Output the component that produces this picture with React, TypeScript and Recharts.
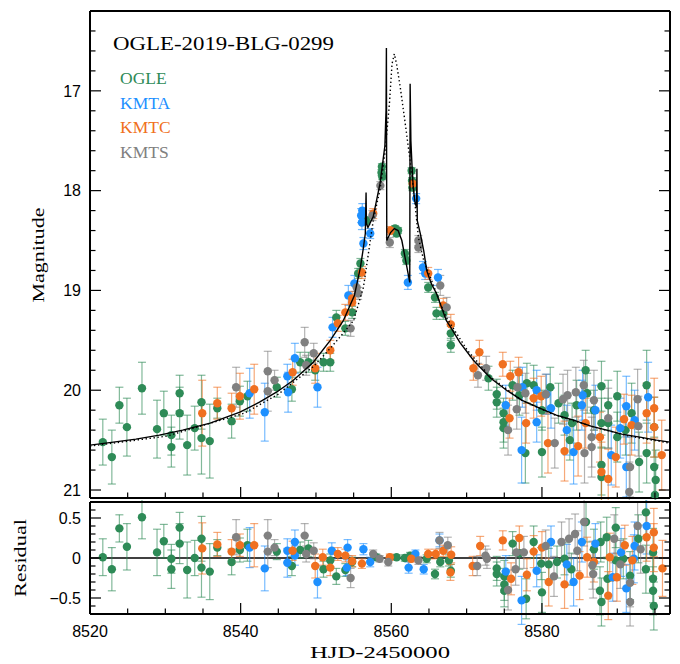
import React from 'react';
import { ScatterChart, Scatter, XAxis, YAxis, ErrorBar, ReferenceLine } from 'recharts';

type Row = [number, number, number];
type Pt = [number, number];

// light curve: [HJD-2450000, magnitude, sigma]
const ogleMag: Row[] = [
  [8521.7, 20.52, 0.23], [8522.9, 20.67, 0.27], [8523.9, 20.15, 0.18], [8524.9, 20.37, 0.29],
  [8526.9, 19.98, 0.26], [8528.9, 20.39, 0.29], [8529.8, 20.23, 0.22], [8530.8, 20.45, 0.2],
  [8530.8, 20.57, 0.2], [8531.9, 20.03, 0.18], [8531.9, 20.23, 0.26], [8532.9, 20.55, 0.3],
  [8533.9, 20.38, 0.22], [8534.8, 20.12, 0.27], [8534.8, 20.48, 0.36], [8535.9, 20.51, 0.37],
  [8536.9, 20.18, 0.1], [8538.8, 20.31, 0.17], [8539.9, 20.11, 0.15], [8540.9, 20.06, 0.15],
  [8544.8, 19.97, 0.1], [8546.8, 19.99, 0.12], [8547.9, 19.72, 0.1], [8549.0, 19.72, 0.1],
  [8549.9, 19.8, 0.1], [8551.0, 19.72, 0.09], [8551.9, 19.72, 0.09], [8552.7, 19.27, 0.07],
  [8553.9, 19.38, 0.07], [8554.8, 19.22, 0.06], [8555.6, 18.83, 0.05], [8555.9, 18.73, 0.05],
  [8556.7, 18.3, 0.04], [8558.7, 17.82, 0.03], [8558.75, 17.76, 0.03], [8558.8, 17.86, 0.03],
  [8560.5, 18.38, 0.03], [8560.7, 18.43, 0.03], [8560.9, 18.4, 0.03], [8561.8, 18.63, 0.04],
  [8562.0, 18.7, 0.04], [8562.7, 17.8, 0.03], [8562.75, 17.9, 0.03], [8562.8, 17.97, 0.03],
  [8564.9, 18.97, 0.05], [8565.8, 19.07, 0.05], [8566.0, 19.23, 0.06], [8566.9, 19.23, 0.06],
  [8567.9, 19.43, 0.07], [8567.9, 19.55, 0.07], [8572.9, 19.88, 0.12], [8574.0, 20.04, 0.15],
  [8574.0, 20.12, 0.15], [8574.9, 20.23, 0.15], [8574.9, 20.32, 0.2], [8574.9, 20.38, 0.2],
  [8576.1, 19.95, 0.15], [8577.0, 20.05, 0.2], [8577.8, 20.63, 0.3], [8578.0, 19.93, 0.2],
  [8578.9, 19.95, 0.2], [8580.0, 20.62, 0.25], [8580.0, 20.2, 0.2], [8581.1, 19.97, 0.2],
  [8582.2, 20.13, 0.2], [8583.0, 20.25, 0.2], [8583.7, 20.5, 0.2], [8584.0, 20.33, 0.2],
  [8584.6, 20.15, 0.25], [8585.8, 19.8, 0.2], [8586.0, 20.03, 0.2], [8586.9, 20.2, 0.2],
  [8587.9, 19.96, 0.25], [8587.9, 20.33, 0.25], [8587.9, 20.87, 0.3], [8587.9, 20.75, 0.3],
  [8588.8, 20.15, 0.25], [8588.8, 20.33, 0.25], [8590.0, 20.06, 0.25], [8590.0, 20.47, 0.25],
  [8591.1, 20.4, 0.25], [8591.9, 20.23, 0.3], [8592.9, 20.72, 0.3], [8593.9, 20.63, 0.3],
  [8593.9, 19.95, 0.35], [8594.9, 20.37, 0.3], [8594.9, 20.77, 0.3], [8595.1, 20.9, 0.3],
  [8595.0, 21.05, 0.3],
];

const kmtaMag: Row[] = [
  [8541.2, 20.03, 0.25], [8543.2, 20.22, 0.29], [8546.2, 19.86, 0.12], [8546.3, 20.02, 0.2],
  [8547.2, 19.68, 0.15], [8550.2, 19.97, 0.2], [8552.2, 19.37, 0.1], [8554.3, 19.05, 0.1],
  [8555.1, 18.93, 0.08], [8556.0, 18.25, 0.07], [8556.1, 18.32, 0.07], [8556.15, 18.2, 0.07],
  [8556.3, 18.53, 0.06], [8557.2, 18.43, 0.05], [8562.2, 18.92, 0.07], [8563.3, 18.08, 0.05],
  [8564.2, 18.77, 0.06], [8564.5, 18.83, 0.06], [8566.2, 18.87, 0.08], [8575.2, 20.15, 0.2],
  [8577.3, 20.6, 0.33], [8577.4, 19.97, 0.2], [8579.3, 20.0, 0.2], [8579.3, 20.32, 0.2],
  [8580.6, 20.04, 0.2], [8581.2, 20.18, 0.2], [8583.3, 20.4, 0.25], [8584.2, 20.62, 0.32],
  [8585.3, 20.15, 0.25], [8585.4, 20.05, 0.25], [8587.1, 20.2, 0.25], [8589.2, 20.65, 0.3],
  [8590.4, 20.38, 0.3], [8591.2, 20.16, 0.3], [8591.2, 20.77, 0.3], [8592.3, 20.3, 0.3],
  [8594.1, 20.07, 0.35],
];

const kmtcMag: Row[] = [
  [8534.9, 20.23, 0.33], [8536.9, 20.13, 0.16], [8538.8, 20.18, 0.15], [8539.9, 20.06, 0.23],
  [8541.8, 19.99, 0.25], [8546.9, 19.82, 0.13], [8549.9, 19.78, 0.15], [8551.9, 19.6, 0.1],
  [8552.9, 19.33, 0.08], [8553.9, 19.22, 0.08], [8554.8, 19.08, 0.07], [8554.8, 19.12, 0.07],
  [8556.1, 18.82, 0.06], [8557.6, 18.23, 0.05], [8559.9, 18.4, 0.04], [8562.85, 17.93, 0.04],
  [8564.9, 18.83, 0.06], [8566.9, 19.15, 0.07], [8567.9, 19.34, 0.1], [8570.9, 19.78, 0.12],
  [8571.7, 19.62, 0.12], [8574.8, 19.74, 0.12], [8575.8, 19.86, 0.15], [8575.7, 20.28, 0.2],
  [8576.9, 19.82, 0.15], [8577.9, 20.33, 0.2], [8578.9, 20.08, 0.2], [8579.9, 20.06, 0.2],
  [8580.8, 20.53, 0.3], [8583.0, 20.61, 0.3], [8584.8, 20.56, 0.3], [8585.8, 20.33, 0.25],
  [8587.7, 20.47, 0.25], [8587.9, 20.82, 0.3], [8588.8, 20.89, 0.3], [8589.8, 20.67, 0.3],
  [8590.9, 20.29, 0.25], [8591.9, 20.35, 0.3], [8593.9, 20.23, 0.3], [8594.9, 20.18, 0.3],
  [8594.9, 20.37, 0.3], [8595.9, 20.65, 0.35],
];

const kmtsMag: Row[] = [
  [8539.4, 19.97, 0.2], [8543.6, 19.81, 0.2], [8543.6, 20.01, 0.2], [8544.5, 19.9, 0.1],
  [8548.5, 19.52, 0.15], [8548.7, 19.75, 0.1], [8549.7, 19.63, 0.1], [8554.6, 19.38, 0.08],
  [8555.4, 18.97, 0.06], [8555.6, 19.03, 0.06], [8557.5, 18.25, 0.05], [8558.55, 17.95, 0.04],
  [8559.8, 18.52, 0.05], [8563.6, 18.5, 0.05], [8563.6, 18.57, 0.05], [8566.5, 18.95, 0.1],
  [8567.35, 19.17, 0.1], [8571.5, 19.85, 0.12], [8572.6, 19.78, 0.12], [8575.5, 20.4, 0.25],
  [8576.65, 20.19, 0.2], [8576.75, 19.97, 0.2], [8577.8, 20.03, 0.2], [8580.5, 20.04, 0.2],
  [8581.7, 20.53, 0.25], [8582.8, 20.09, 0.25], [8583.4, 20.05, 0.25], [8584.5, 20.02, 0.25],
  [8585.55, 19.95, 0.25], [8585.65, 20.63, 0.3], [8586.6, 20.47, 0.3], [8586.6, 20.57, 0.3],
  [8586.9, 20.1, 0.3], [8588.8, 20.28, 0.3], [8591.7, 20.77, 0.3], [8591.6, 21.02, 0.3],
  [8592.7, 20.09, 0.3], [8592.8, 20.36, 0.3],
];

// residuals: [HJD-2450000, residual, sigma]
const ogleRes: Row[] = [
  [8521.7, 0.01, 0.23], [8522.9, -0.14, 0.27], [8523.9, 0.37, 0.17], [8524.9, 0.14, 0.29],
  [8526.9, 0.51, 0.27], [8528.9, 0.07, 0.29], [8529.8, 0.21, 0.21], [8530.8, -0.01, 0.18],
  [8530.8, -0.14, 0.24], [8531.9, 0.38, 0.19], [8531.9, 0.18, 0.25], [8532.9, -0.15, 0.35],
  [8533.9, 0.0, 0.22], [8534.8, 0.24, 0.28], [8534.8, -0.12, 0.37], [8535.9, -0.17, 0.35],
  [8536.9, 0.13, 0.1], [8538.8, -0.05, 0.16], [8539.9, 0.1, 0.15], [8540.9, 0.16, 0.2],
  [8544.8, 0.08, 0.1], [8546.8, -0.1, 0.12], [8547.9, 0.1, 0.1], [8549.0, 0.12, 0.1],
  [8551.0, -0.14, 0.1], [8551.9, -0.03, 0.08], [8552.7, -0.23, 0.1], [8553.9, -0.15, 0.08],
  [8554.8, -0.05, 0.06], [8558.0, 0.01, 0.04], [8560.7, 0.01, 0.03], [8561.8, 0.0, 0.04],
  [8562.5, 0.03, 0.04], [8564.7, -0.01, 0.05], [8565.8, -0.2, 0.06], [8566.5, -0.05, 0.06],
  [8567.9, -0.16, 0.08], [8567.65, -0.03, 0.07], [8574.0, -0.13, 0.15], [8574.0, -0.2, 0.15],
  [8575.0, -0.23, 0.2], [8575.0, -0.33, 0.2], [8575.0, -0.41, 0.2], [8576.1, 0.18, 0.15],
  [8577.0, 0.06, 0.2], [8577.9, -0.51, 0.25], [8578.9, 0.2, 0.2], [8579.9, -0.07, 0.2],
  [8580.0, -0.43, 0.25], [8580.9, -0.08, 0.2], [8582.0, -0.05, 0.2], [8583.0, -0.01, 0.2],
  [8583.9, -0.14, 0.2], [8585.85, 0.45, 0.25], [8586.9, 0.11, 0.25], [8587.8, 0.2, 0.25],
  [8587.7, -0.41, 0.3], [8587.9, -0.55, 0.3], [8588.6, 0.26, 0.25], [8588.7, -0.26, 0.25],
  [8589.8, 0.38, 0.25], [8589.8, -0.03, 0.25], [8590.8, -0.01, 0.25], [8591.7, -0.22, 0.3],
  [8592.8, 0.24, 0.3], [8593.8, -0.14, 0.3], [8593.8, 0.57, 0.3], [8594.75, 0.07, 0.3],
  [8594.75, -0.26, 0.3], [8594.75, -0.41, 0.3], [8594.85, -0.6, 0.3],
];

const kmtaRes: Row[] = [
  [8541.2, 0.13, 0.25], [8543.2, -0.13, 0.28], [8546.2, 0.09, 0.15], [8546.2, -0.06, 0.18],
  [8547.2, 0.2, 0.15], [8547.2, 0.03, 0.12], [8550.2, -0.3, 0.2], [8552.1, 0.09, 0.1],
  [8554.2, 0.13, 0.1], [8554.1, -0.12, 0.1], [8556.3, 0.11, 0.07], [8557.2, -0.05, 0.06],
  [8562.3, -0.12, 0.07], [8563.2, 0.05, 0.05], [8564.3, -0.14, 0.06], [8566.4, 0.22, 0.08],
  [8575.2, -0.17, 0.2], [8577.3, -0.53, 0.3], [8579.3, -0.16, 0.2], [8581.2, 0.2, 0.2],
  [8583.3, -0.08, 0.25], [8584.2, -0.3, 0.3], [8585.3, 0.2, 0.25], [8587.1, 0.18, 0.25],
  [8589.4, -0.24, 0.3], [8590.5, 0.07, 0.3], [8591.2, -0.38, 0.3], [8592.3, 0.15, 0.3],
  [8592.2, -0.01, 0.3], [8593.9, 0.4, 0.35],
];

const kmtcRes: Row[] = [
  [8534.9, 0.12, 0.32], [8536.9, 0.17, 0.15], [8538.8, 0.08, 0.15], [8539.9, 0.16, 0.14],
  [8541.8, 0.16, 0.27], [8546.9, 0.09, 0.12], [8549.9, -0.1, 0.15], [8550.9, 0.01, 0.1],
  [8551.9, -0.12, 0.1], [8552.9, 0.05, 0.08], [8553.9, 0.03, 0.08], [8554.8, -0.04, 0.07],
  [8556.1, -0.07, 0.06], [8559.8, 0.01, 0.04], [8562.65, -0.01, 0.04], [8564.9, 0.05, 0.06],
  [8565.9, 0.05, 0.06], [8566.9, 0.09, 0.07], [8567.85, -0.18, 0.1], [8567.95, 0.04, 0.1],
  [8570.8, -0.1, 0.12], [8571.8, 0.15, 0.12], [8574.8, 0.22, 0.12], [8575.9, -0.26, 0.2],
  [8577.0, 0.25, 0.15], [8578.0, -0.21, 0.2], [8578.9, 0.08, 0.2], [8580.0, 0.13, 0.2],
  [8580.9, -0.3, 0.3], [8583.0, -0.33, 0.3], [8585.0, -0.22, 0.3], [8586.0, 0.01, 0.25],
  [8586.9, -0.05, 0.25], [8588.8, -0.47, 0.3], [8589.0, 0.01, 0.3], [8589.95, -0.24, 0.3],
  [8591.0, 0.16, 0.25], [8592.0, -0.03, 0.3], [8593.9, 0.26, 0.3], [8594.85, 0.32, 0.3],
  [8594.85, 0.13, 0.3], [8596.0, -0.13, 0.35],
];

const kmtsRes: Row[] = [
  [8539.4, 0.26, 0.22], [8543.6, 0.28, 0.2], [8543.6, 0.08, 0.2], [8544.5, 0.13, 0.1],
  [8548.5, 0.28, 0.15], [8548.7, 0.05, 0.1], [8549.7, 0.09, 0.1], [8554.6, -0.25, 0.12],
  [8557.6, 0.05, 0.05], [8558.45, -0.01, 0.04], [8559.6, -0.05, 0.05], [8563.6, -0.03, 0.05],
  [8566.4, 0.22, 0.1], [8567.5, 0.16, 0.1], [8571.4, -0.1, 0.12], [8572.5, 0.03, 0.12],
  [8572.7, -0.01, 0.12], [8575.5, -0.4, 0.25], [8576.5, -0.14, 0.2], [8576.6, 0.07, 0.2],
  [8577.6, 0.07, 0.2], [8580.5, 0.15, 0.2], [8581.6, -0.23, 0.25], [8582.6, 0.2, 0.25],
  [8583.6, 0.24, 0.25], [8584.4, 0.3, 0.25], [8584.7, 0.09, 0.25], [8585.6, 0.45, 0.3],
  [8586.7, -0.09, 0.3], [8586.8, -0.2, 0.3], [8589.6, 0.24, 0.3], [8590.4, -0.08, 0.3],
  [8591.7, -0.31, 0.3], [8591.7, -0.55, 0.3], [8592.7, 0.4, 0.3], [8593.1, 0.11, 0.3],
];

// model curves: [HJD-2450000, magnitude]
const binaryModel: Pt[] = [
  [8520.0, 20.55], [8523.1, 20.52], [8526.1, 20.49], [8529.2, 20.45], [8532.3, 20.4],
  [8535.95, 20.33], [8539.9, 20.22], [8542.5, 20.12], [8544.75, 20.02], [8547.0, 19.9],
  [8549.65, 19.72], [8551.9, 19.5], [8553.65, 19.3], [8555.1, 19.05], [8555.9, 18.77],
  [8556.3, 18.57], [8556.55, 18.43], [8556.65, 18.02], [8556.7, 18.33], [8556.9, 18.37],
  [8557.6, 18.26], [8558.5, 17.93], [8559.15, 17.55], [8559.3, 17.2], [8559.35, 16.57],
  [8559.4, 18.5], [8559.9, 18.42], [8560.4, 18.38], [8560.9, 18.4], [8561.4, 18.5],
  [8561.9, 18.7], [8562.45, 18.92], [8562.5, 16.93], [8562.6, 17.5], [8562.75, 17.75],
  [8562.9, 17.95], [8563.1, 18.1], [8563.35, 18.17], [8563.4, 17.78], [8563.45, 18.3],
  [8563.85, 18.43], [8564.3, 18.6], [8564.7, 18.8], [8565.3, 18.93], [8566.0, 19.03],
  [8567.3, 19.3], [8567.9, 19.37], [8569.1, 19.52], [8570.9, 19.7], [8573.2, 19.88],
  [8575.3, 20.0], [8577.3, 20.1], [8579.7, 20.18], [8581.9, 20.25], [8584.2, 20.3],
  [8586.5, 20.36], [8588.6, 20.4], [8590.6, 20.44], [8593.0, 20.47], [8595.2, 20.5],
  [8597.0, 20.52],
];

const singleModel: Pt[] = [
  [8520.0, 20.56], [8530.2, 20.46], [8540.5, 20.23], [8545.0, 20.04], [8547.0, 19.92],
  [8549.7, 19.76], [8551.9, 19.58], [8553.6, 19.43], [8555.0, 19.3], [8556.3, 18.97],
  [8557.6, 18.3], [8558.55, 17.97], [8559.15, 17.63], [8559.75, 17.13], [8560.1, 16.73],
  [8560.4, 16.63], [8560.7, 16.73], [8561.2, 16.97], [8561.8, 17.3], [8562.5, 17.7],
  [8563.2, 18.17], [8563.6, 18.47], [8564.3, 18.7], [8565.2, 18.87], [8566.5, 19.13],
  [8567.3, 19.27], [8570.1, 19.6], [8573.2, 19.87], [8577.3, 20.1], [8581.4, 20.24],
  [8586.5, 20.36], [8591.6, 20.46], [8597.0, 20.53],
];

const dayTicks = [8520, 8525, 8530, 8535, 8540, 8545, 8550, 8555, 8560, 8565, 8570, 8575, 8580, 8585, 8590, 8595];
const magTicks = [16.4, 16.6, 16.8, 17, 17.2, 17.4, 17.6, 17.8, 18, 18.2, 18.4, 18.6, 18.8, 19, 19.2, 19.4, 19.6, 19.8, 20, 20.2, 20.4, 20.6, 20.8, 21];
const resTicks = [-0.6, -0.5, -0.4, -0.3, -0.2, -0.1, 0, 0.1, 0.2, 0.3, 0.4, 0.5, 0.6];

const series = [
  { name: 'OGLE', color: '#2e8b57', bar: 'rgba(46,139,87,0.6)', mag: ogleMag, res: ogleRes },
  { name: 'KMTA', color: '#1e90ff', bar: 'rgba(30,144,255,0.6)', mag: kmtaMag, res: kmtaRes },
  { name: 'KMTC', color: '#f07020', bar: 'rgba(240,112,32,0.6)', mag: kmtcMag, res: kmtcRes },
  { name: 'KMTS', color: '#808080', bar: 'rgba(128,128,128,0.6)', mag: kmtsMag, res: kmtsRes },
];

const TICK_FONT = '"Liberation Sans", Arial, sans-serif';
const TEXT_FONT = '"Liberation Serif", "Times New Roman", serif';
const frame = { stroke: '#000', strokeWidth: 2 };

const near = (v: number, step: number) => Math.abs(v / step - Math.round(v / step)) < 1e-6;
const toPts = (rows: Row[]) => rows.map(([x, y, e]) => ({ x, y, e }));
const toLine = (rows: Pt[]) => rows.map(([x, y]) => ({ x, y }));

const xTick = (side: 'top' | 'bottom', labels: boolean) => (p: any) => {
  const v = p.payload.value;
  const major = near(v, 20);
  const len = major ? 11 : 5.5;
  const dir = side === 'bottom' ? -1 : 1;
  return (
    <g>
      <line x1={p.x} x2={p.x} y1={p.y} y2={p.y + dir * len} stroke="#000" strokeWidth={1.2} />
      {labels && major ? (
        <text x={p.x} y={p.y + 23} textAnchor="middle" fontFamily={TICK_FONT} fontSize={16} fill="#000">
          {v}
        </text>
      ) : null}
    </g>
  );
};

const yTick = (side: 'left' | 'right', step: number, labels: boolean) => (p: any) => {
  const v = p.payload.value;
  const major = near(v, step);
  const len = major ? 11 : 5.5;
  const dir = side === 'left' ? 1 : -1;
  const txt = v < 0 ? '\u2212' + Math.abs(v) : String(v);
  return (
    <g>
      <line x1={p.x} x2={p.x + dir * len} y1={p.y} y2={p.y} stroke="#000" strokeWidth={1.2} />
      {labels && major ? (
        <text x={p.x - 9} y={p.y} dy="0.36em" textAnchor="end" fontFamily={TICK_FONT} fontSize={16} fill="#000">
          {txt}
        </text>
      ) : null}
    </g>
  );
};

const dot = (color: string) => (p: any) => <circle cx={p.cx} cy={p.cy} r={4.2} fill={color} />;
const blank = () => <g />;

// axes are 1px thick boxes: a zero-sized axis is not drawn at all
const Axes = ({ yDomain, yTicks, step, reversed, labelX }: any) => [
  <XAxis key="xb" type="number" dataKey="x" domain={[8520, 8597]} allowDataOverflow ticks={dayTicks} interval={0}
    height={1} tickSize={0} tickMargin={0} axisLine={frame} tickLine={false} tick={xTick('bottom', labelX)} />,
  <XAxis key="xt" xAxisId="t" orientation="top" type="number" domain={[8520, 8597]} allowDataOverflow ticks={dayTicks}
    interval={0} height={1} tickSize={0} tickMargin={0} axisLine={frame} tickLine={false} tick={xTick('top', false)} />,
  <YAxis key="yl" type="number" dataKey="y" domain={yDomain} reversed={reversed} allowDataOverflow ticks={yTicks}
    interval={0} width={1} tickSize={0} tickMargin={0} axisLine={frame} tickLine={false} tick={yTick('left', step, true)} />,
  <YAxis key="yr" yAxisId="r" orientation="right" type="number" domain={yDomain} reversed={reversed} allowDataOverflow
    ticks={yTicks} interval={0} width={1} tickSize={0} tickMargin={0} axisLine={frame} tickLine={false}
    tick={yTick('right', step, false)} />,
];

export default function App() {
  return (
    <div style={{ position: 'absolute', left: 0, top: 0, width: 680, height: 664, background: '#fff' }}>
      <div style={{ position: 'absolute', left: 0, top: 0 }}>
        <ScatterChart width={680} height={500} margin={{ top: 10, right: 9, bottom: 1, left: 89 }}>
          {Axes({ yDomain: [16.2, 21.08], yTicks: magTicks, step: 1, reversed: true, labelX: false })}
          {series.map((s) => (
            <Scatter key={s.name} data={toPts(s.mag)} fill={s.color} shape={dot(s.color)} isAnimationActive={false}>
              <ErrorBar dataKey="e" direction="y" width={4} stroke={s.bar} strokeWidth={1.2} />
            </Scatter>
          ))}
          <Scatter data={toLine(singleModel)} line={{ stroke: '#000', strokeWidth: 1.4, strokeDasharray: '1.4 2.6' }}
            lineType="joint" shape={blank} isAnimationActive={false} />
          <Scatter data={toLine(binaryModel)} line={{ stroke: '#000', strokeWidth: 1.4 }}
            lineType="joint" shape={blank} isAnimationActive={false} />
        </ScatterChart>
      </div>
      <div style={{ position: 'absolute', left: 0, top: 500 }}>
        <ScatterChart width={680} height={164} margin={{ top: 1, right: 9, bottom: 49, left: 89 }}>
          {Axes({ yDomain: [-0.7, 0.7], yTicks: resTicks, step: 0.5, reversed: false, labelX: true })}
          <ReferenceLine y={0} stroke="#000" strokeWidth={1.3} />
          {series.map((s) => (
            <Scatter key={s.name} data={toPts(s.res)} fill={s.color} shape={dot(s.color)} isAnimationActive={false}>
              <ErrorBar dataKey="e" direction="y" width={4} stroke={s.bar} strokeWidth={1.2} />
            </Scatter>
          ))}
        </ScatterChart>
      </div>
      <svg width={680} height={664} style={{ position: 'absolute', left: 0, top: 0, pointerEvents: 'none' }}>
        <text x={113} y={50} fontFamily={TEXT_FONT} fontSize={18} textLength={221} lengthAdjust="spacingAndGlyphs">
          OGLE-2019-BLG-0299
        </text>
        {series.map((s, i) => (
          <text key={s.name} x={120} y={84 + 24.6 * i} fill={s.color} fontFamily={TEXT_FONT} fontSize={17.5}>
            {s.name}
          </text>
        ))}
        <text transform="translate(44,255) rotate(-90)" textAnchor="middle" fontFamily={TEXT_FONT} fontSize={17}
          textLength={95} lengthAdjust="spacingAndGlyphs">
          Magnitude
        </text>
        <text transform="translate(26,558) rotate(-90)" textAnchor="middle" fontFamily={TEXT_FONT} fontSize={17}
          textLength={78} lengthAdjust="spacingAndGlyphs">
          Residual
        </text>
        <text x={380} y={658} textAnchor="middle" fontFamily={TEXT_FONT} fontSize={17} textLength={140}
          lengthAdjust="spacingAndGlyphs">
          HJD-2450000
        </text>
      </svg>
    </div>
  );
}
